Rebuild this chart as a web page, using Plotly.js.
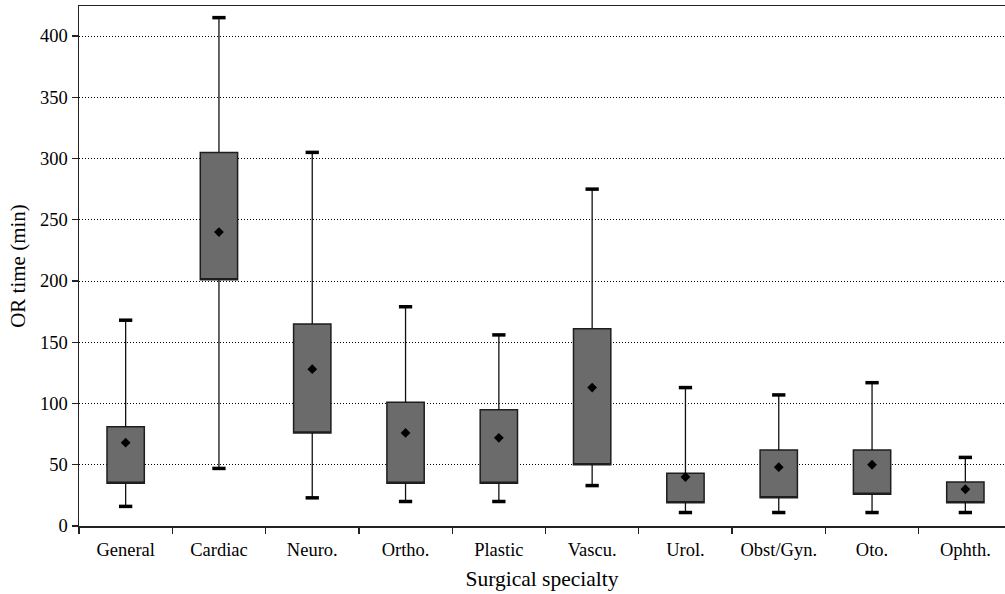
<!DOCTYPE html>
<html>
<head>
<meta charset="utf-8">
<script src="https://cdn.plot.ly/plotly-3.0.1.min.js"></script>
<style>html,body{margin:0;padding:0;background:#fff;}#chart{width:1005px;height:594px;}</style>
</head>
<body>
<div id="chart"></div>
<script>
const categories = ["General", "Cardiac", "Neuro.", "Ortho.", "Plastic", "Vascu.", "Urol.", "Obst/Gyn.", "Oto.", "Ophth."];
const minVals  = [16, 47, 23, 20, 20, 33, 11, 11, 11, 11];
const q1Vals   = [35, 201, 76, 35, 35, 50, 19, 23, 26, 19];
const meanVals = [68, 240, 128, 76, 72, 113, 40, 48, 50, 30];
const q3Vals   = [81, 305, 165, 101, 95, 161, 43, 62, 62, 36];
const maxVals  = [168, 415, 305, 179, 156, 275, 113, 107, 117, 56];

const whiskX = [], whiskY = [];
categories.forEach((c, i) => {
  whiskX.push(c, c, null, c, c, null);
  whiskY.push(q3Vals[i], maxVals[i], null, q1Vals[i], minVals[i], null);
});
const capX = categories.concat(categories);
const capY = maxVals.concat(minVals);

const traces = [
  {
    type: 'box',
    x: categories,
    q1: q1Vals,
    median: q1Vals,
    q3: q3Vals,
    lowerfence: q1Vals,
    upperfence: q3Vals,
    width: 0.4,
    whiskerwidth: 0,
    fillcolor: '#6b6b6b',
    line: {color: '#1e1e1e', width: 1.5},
    hoverinfo: 'skip',
    showlegend: false
  },
  {
    type: 'scatter', mode: 'lines',
    x: whiskX, y: whiskY,
    line: {color: '#111', width: 1.3},
    connectgaps: false,
    hoverinfo: 'skip', showlegend: false
  },
  {
    type: 'scatter', mode: 'markers',
    x: capX, y: capY,
    marker: {symbol: 'line-ew', size: 9.5, line: {color: '#000', width: 3.5}},
    hoverinfo: 'skip', showlegend: false
  },
  {
    type: 'scatter', mode: 'markers',
    x: categories, y: meanVals,
    marker: {symbol: 'diamond', size: 7.5, color: '#000'},
    showlegend: false
  }
];

const layout = {
  width: 1005, height: 594,
  margin: {l: 79, r: 0, t: 6, b: 68},
  paper_bgcolor: '#fff', plot_bgcolor: '#fff',
  font: {family: '"Liberation Serif", "Times New Roman", serif', color: '#000', size: 18},
  showlegend: false,
  xaxis: {
    type: 'category',
    range: [-0.5, 9.425],
    tickson: 'boundaries',
    ticks: 'outside', ticklen: 6, tickwidth: 1.3, tickcolor: '#222',
    showline: true, linecolor: '#222', linewidth: 1.5, mirror: true,
    showgrid: false, zeroline: false,
    tickfont: {size: 18.5},
    ticklabelstandoff: 6,
    title: {text: 'Surgical specialty', font: {size: 21.5}, standoff: 12}
  },
  yaxis: {
    range: [0, 424.5],
    tickvals: [0, 50, 100, 150, 200, 250, 300, 350, 400],
    ticks: 'outside', ticklen: 6, tickwidth: 1.3, tickcolor: '#222',
    showline: true, linecolor: '#222', linewidth: 1.5,
    showgrid: true, gridcolor: '#000', gridwidth: 1, griddash: '1px,2px',
    zeroline: false,
    tickfont: {size: 18.5},
    title: {text: 'OR time (min)', font: {size: 21}, standoff: 8}
  }
};

Plotly.newPlot('chart', traces, layout, {displayModeBar: false, staticPlot: true});
</script>
</body>
</html>
